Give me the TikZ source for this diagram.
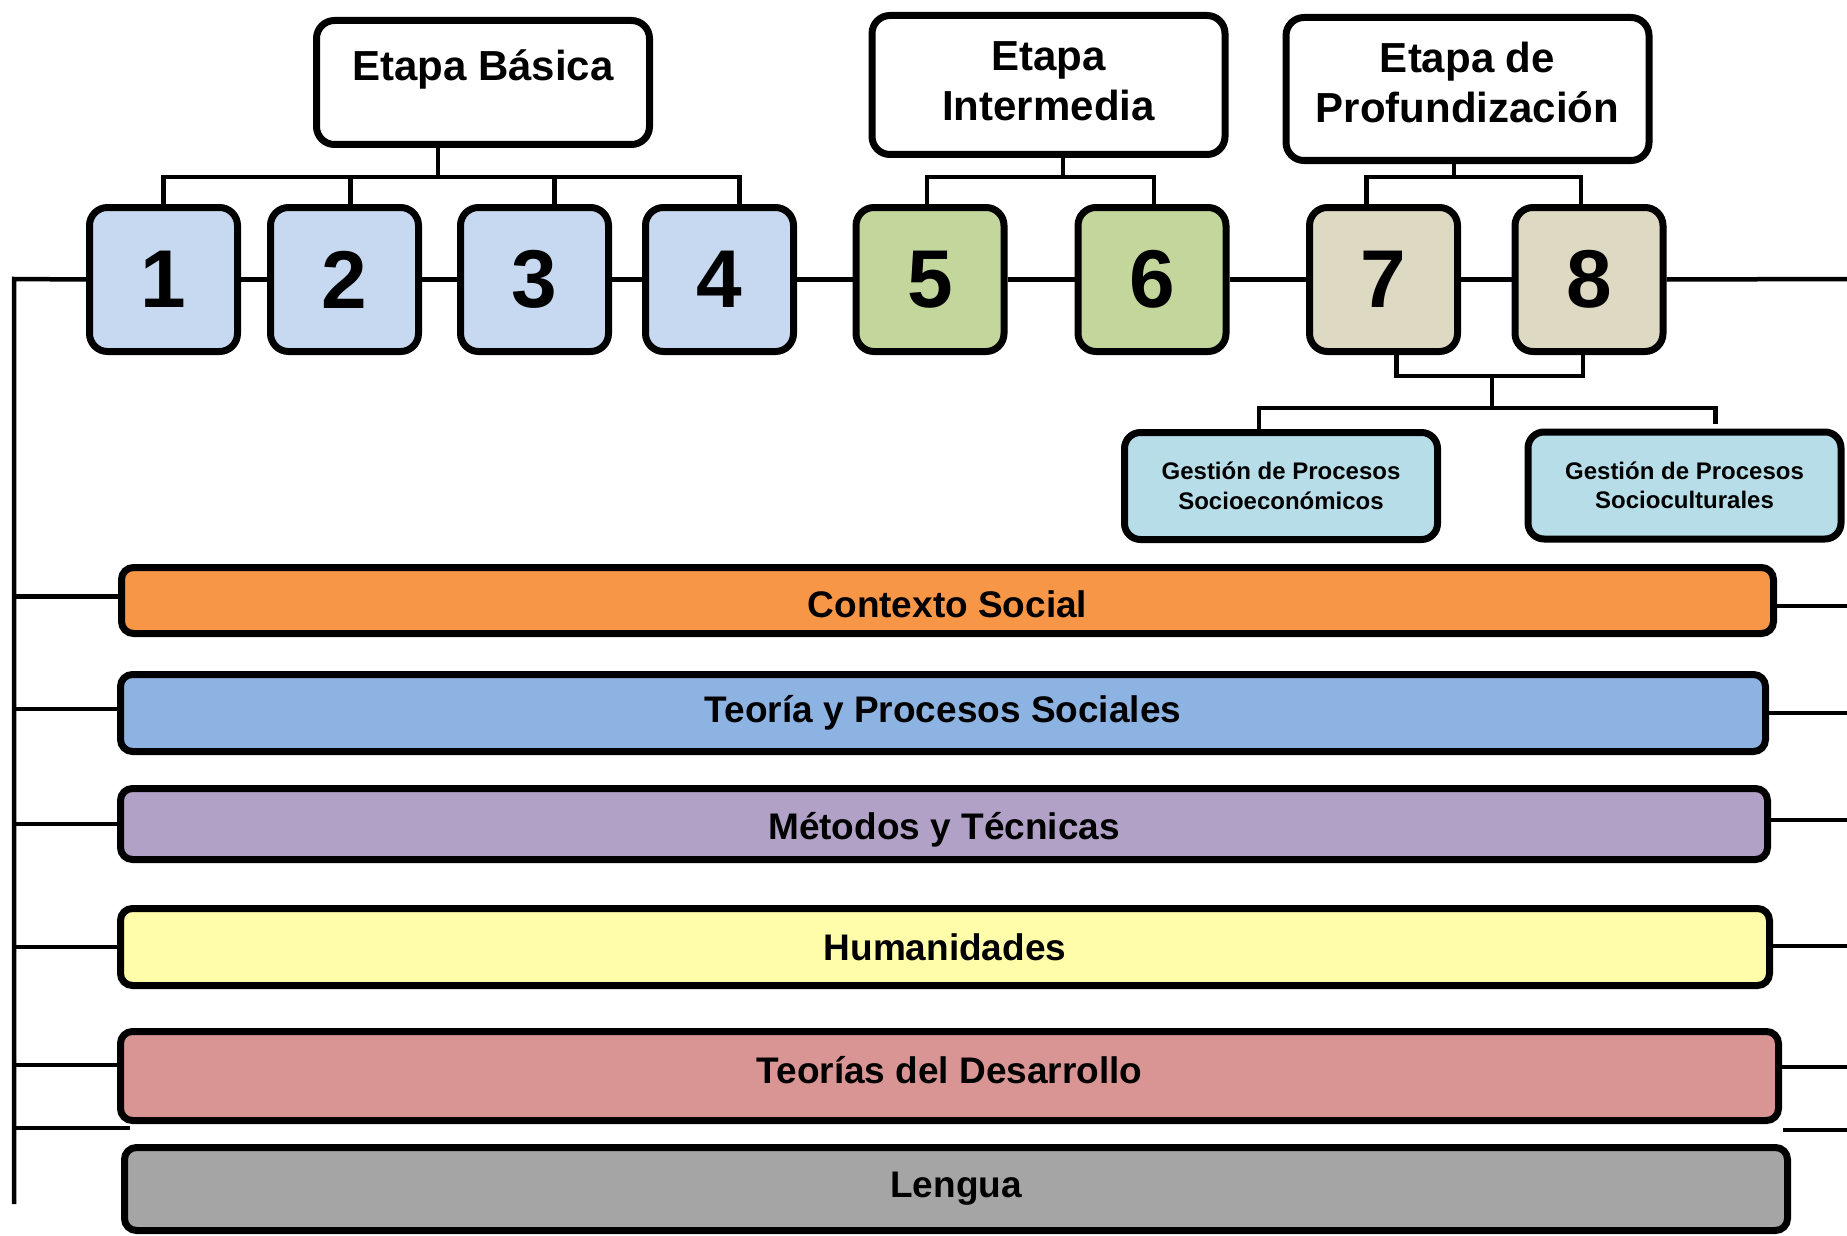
\documentclass[tikz,border=0pt]{standalone}
\usepackage{fontspec}
\setmainfont{Liberation Sans}

\definecolor{basicfill}{HTML}{C6D9F1}
\definecolor{interfill}{HTML}{C3D69B}
\definecolor{proffill}{HTML}{DDD9C3}
\definecolor{gestfill}{HTML}{B7DEE8}
\definecolor{ctxfill}{HTML}{F79646}
\definecolor{teofill}{HTML}{8DB3E2}
\definecolor{metfill}{HTML}{B2A1C7}
\definecolor{humfill}{HTML}{FFFDAA}
\definecolor{desfill}{HTML}{D99594}
\definecolor{lenfill}{HTML}{A5A5A5}

\begin{document}
\begin{tikzpicture}[x=1pt,y=-1pt,
    stage/.style={draw,line width=7pt,rounded corners=18pt,fill=white,align=center,
        font=\fontsize{42}{50}\selectfont\bfseries},
    sem/.style={draw,line width=7pt,rounded corners=18pt,inner sep=0pt,
        minimum width=148pt,minimum height=144pt,font=\fontsize{82}{82}\selectfont\bfseries},
    opt/.style={draw,line width=7pt,rounded corners=16pt,fill=gestfill,align=center,
        minimum width=313pt,minimum height=107pt,font=\fontsize{24}{29.5}\selectfont\bfseries},
    area/.style={draw,line width=7pt,rounded corners=12pt,inner sep=0pt,
        font=\fontsize{37}{44}\selectfont\bfseries},
    link/.style={line width=4.5pt}]
    \useasboundingbox (0,0) rectangle (1847,1236);

    \node[stage,minimum width=333pt,minimum height=124pt,text height=30pt,text depth=34pt] (basica) at (483,82.5) {Etapa Básica};
    \node[stage,minimum width=353pt,minimum height=139pt] (intermedia) at (1048.5,85) {Etapa\\Intermedia\rule[-8pt]{0pt}{0pt}};
    \node[stage,minimum width=363pt,minimum height=143pt] (profund) at (1467.5,89) {Etapa de\\Profundización\rule[-14pt]{0pt}{0pt}};

    \node[sem,fill=basicfill] (s1) at (163.5,279.5) {1};
    \node[sem,fill=basicfill] (s2) at (344.5,279.5) {2};
    \node[sem,fill=basicfill] (s3) at (534.5,279.5) {3};
    \node[sem,fill=basicfill] (s4) at (719.5,279.5) {4};
    \node[sem,fill=interfill] (s5) at (930,279.5) {5};
    \node[sem,fill=interfill] (s6) at (1152,279.5) {6};
    \node[sem,fill=proffill] (s7) at (1383.5,279.5) {7};
    \node[sem,fill=proffill] (s8) at (1589,279.5) {8};

    \node[opt] (socioeco) at (1281,486) {Gestión de Procesos\\Socioeconómicos};
    \node[opt] (sociocul) at (1684.5,485.5) {Gestión de Procesos\\Socioculturales};

    \node[area,fill=ctxfill,minimum width=1652pt,minimum height=66pt] (contexto) at (947.5,600.5) {\rule{0pt}{35pt}Contexto Social};
    \node[area,fill=teofill,minimum width=1645pt,minimum height=77pt] (teoria) at (943,713) {Teoría y Procesos Sociales};
    \node[area,fill=metfill,minimum width=1647pt,minimum height=71pt] (metodos) at (944,824) {\rule{0pt}{38pt}Métodos y Técnicas};
    \node[area,fill=humfill,minimum width=1649pt,minimum height=77pt] (humanid) at (945,947) {Humanidades};
    \node[area,fill=desfill,minimum width=1658pt,minimum height=89pt] (desarrollo) at (949.5,1076) {Teorías del Desarrollo\rule[-12pt]{0pt}{0pt}};
    \node[area,fill=lenfill,minimum width=1663pt,minimum height=83pt] (lengua) at (956,1189) {Lengua};

    % main line
    \coordinate (lt) at (14,279);
    \coordinate (lb) at (14,1204);
    \coordinate (rt) at (1847,279);
    \draw[link] (lb) -- (lt) -- (s1.west);
    \draw[link] (s1.east) -- (s2.west);
    \draw[link] (s2.east) -- (s3.west);
    \draw[link] (s3.east) -- (s4.west);
    \draw[link] (s4.east) -- (s5.west);
    \draw[link] (s5.east) -- (s6.west);
    \draw[link] (s6.east) -- (s7.west);
    \draw[link] (s7.east) -- (s8.west);
    \draw[link] (s8.east) -- (rt);

    % stages
    \coordinate (jb) at (438,177);
    \draw[link] (jb |- basica.south) -- (jb);
    \draw[link] (s1.north) |- ([xshift=20pt]s4.north |- jb) -- ([xshift=20pt]s4.north);
    \draw[link] ([xshift=6pt]s2.north) -- ([xshift=6pt]s2.north |- jb);
    \draw[link] ([xshift=20pt]s3.north) -- ([xshift=20pt]s3.north |- jb);

    \coordinate (ji) at (1063,177);
    \draw[link] (ji |- intermedia.south) -- (ji);
    \draw[link] ([xshift=-3pt]s5.north) |- ([xshift=2pt]s6.north |- ji) -- ([xshift=2pt]s6.north);

    \coordinate (jp) at (1454,177);
    \draw[link] (jp |- profund.south) -- (jp);
    \draw[link] ([xshift=-17pt]s7.north) |- ([xshift=-8pt]s8.north |- jp) -- ([xshift=-8pt]s8.north);

    % options
    \coordinate (jo) at (1492,376);
    \coordinate (jg) at (1492,408);
    \draw[link] ([xshift=13pt]s7.south) |- ([xshift=-6pt]s8.south |- jo) -- ([xshift=-6pt]s8.south);
    \draw[link] (jo) -- (jg);
    \draw[link] ([xshift=-22pt]socioeco.north) |- ([xshift=31pt]sociocul.north |- jg) -- ([xshift=31pt,yshift=5pt]sociocul.north);

    % areas
    \draw[link] ([yshift=4pt]contexto.west) -- ([yshift=4pt]contexto.west -| lt);
    \draw[link] ([yshift=4pt]teoria.west) -- ([yshift=4pt]teoria.west -| lt);
    \draw[link] (metodos.west) -- (metodos.west -| lt);
    \draw[link] (humanid.west) -- (humanid.west -| lt);
    \draw[link] ([yshift=11pt]desarrollo.west) -- ([yshift=11pt]desarrollo.west -| lt);
    \coordinate (lg) at (130,1128);
    \draw[link] (lg) -- (lg -| lt);

    \draw[link] ([yshift=-5.5pt]contexto.east) -- ([yshift=-5.5pt]contexto.east -| rt);
    \draw[link] (teoria.east) -- (teoria.east -| rt);
    \draw[link] ([yshift=4pt]metodos.east) -- ([yshift=4pt]metodos.east -| rt);
    \draw[link] ([yshift=1pt]humanid.east) -- ([yshift=1pt]humanid.east -| rt);
    \draw[link] ([yshift=9pt]desarrollo.east) -- ([yshift=9pt]desarrollo.east -| rt);
    \coordinate (rg) at (1783,1130);
    \draw[link] (rg) -- (rg -| rt);
\end{tikzpicture}
\end{document}
